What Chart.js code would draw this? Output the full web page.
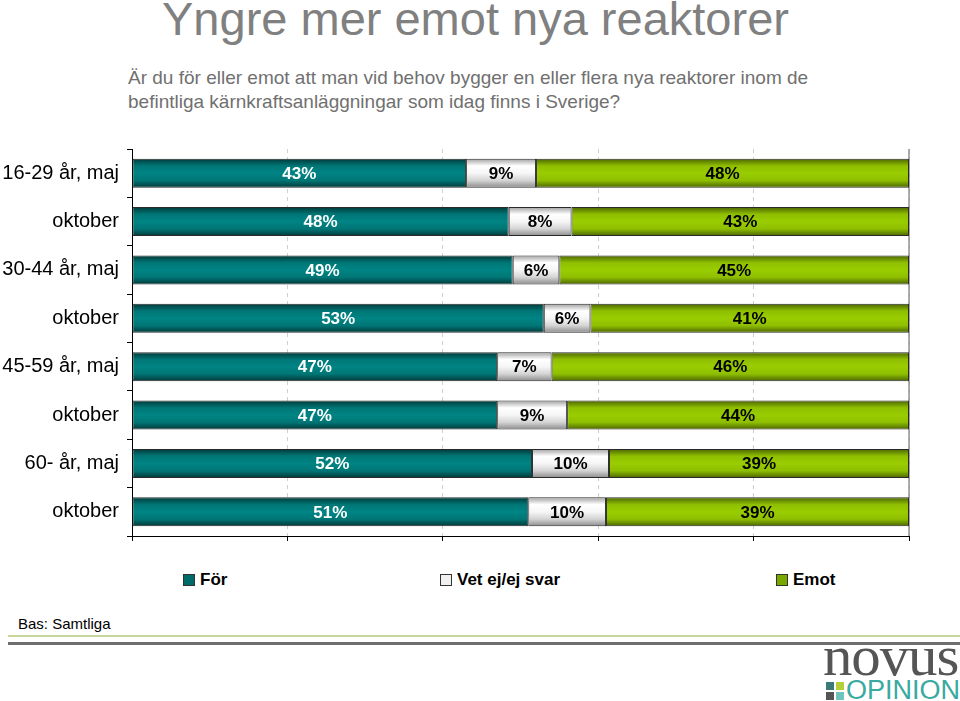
<!DOCTYPE html>
<html><head><meta charset="utf-8">
<script src="https://cdn.jsdelivr.net/npm/chart.js@4"></script>
<style>
body{margin:0;width:960px;height:701px;background:#fff;position:relative;overflow:hidden;font-family:"Liberation Sans",Arial,sans-serif;}
.abs{position:absolute;white-space:nowrap;}
#title{left:162px;top:-9px;font-size:47px;color:#808080;}
#sub{left:128px;top:66px;font-size:19px;color:#707070;line-height:24px;}
#cwrap{position:absolute;left:0;top:129px;width:960px;height:427px;}
.leg{position:absolute;top:570px;font-size:17px;color:#000;font-family:"Liberation Sans Narrow","Liberation Sans",Arial,sans-serif;font-weight:bold;}
.leg i{display:inline-block;width:10px;height:10px;border:1px solid #333;margin-right:5px;vertical-align:-1px;}
#bas{left:18px;top:615px;font-size:15px;color:#000;font-family:"Liberation Sans Narrow","Liberation Sans",Arial,sans-serif;}
#l1{left:8px;top:635px;width:952px;height:2px;background:#c8d89c;}
#l2{left:8px;top:642px;width:952px;height:3px;background:#6e6e6e;}
#novus{left:823px;top:624px;font-family:"Liberation Serif","DejaVu Serif",serif;font-size:56px;color:#555;letter-spacing:-1px;transform:scaleX(1.05);transform-origin:left;}
#opin{left:846px;top:675px;font-size:27px;color:#3aa9a0;font-family:"Liberation Sans",Arial,sans-serif;}
.sq{position:absolute;width:8px;height:8px;}
</style></head><body>
<div id="title" class="abs">Yngre mer emot nya reaktorer</div>
<div id="sub" class="abs">Är du för eller emot att man vid behov bygger en eller flera nya reaktorer inom de<br>befintliga kärnkraftsanläggningar som idag finns i Sverige?</div>
<div id="cwrap"><canvas id="c" width="960" height="427"></canvas></div>
<div class="leg" style="left:183px"><i style="background:#006b6b"></i>För</div>
<div class="leg" style="left:440px"><i style="background:#f0f0f0"></i>Vet ej/ej svar</div>
<div class="leg" style="left:776px"><i style="background:#7aa800"></i>Emot</div>
<div id="bas" class="abs">Bas: Samtliga</div>
<div id="l1" class="abs"></div><div id="l2" class="abs"></div>
<div id="novus" class="abs">novus</div>
<div class="sq" style="left:826px;top:682px;background:#3a7a78"></div>
<div class="sq" style="left:836px;top:682px;background:#b5cf3a"></div>
<div class="sq" style="left:826px;top:692px;background:#555"></div>
<div class="sq" style="left:836px;top:692px;background:#6cc4bc"></div>
<div id="opin" class="abs">OPINION</div>
<script>
const categories = ["16-29 år, maj","oktober","30-44 år, maj","oktober","45-59 år, maj","oktober","60- år, maj","oktober"];
const forValues = [43,48,49,53,47,47,52,51];
const vetValues = [9,8,6,6,7,9,10,10];
const emotValues = [48,43,45,41,46,44,39,39];
const xTicks = [0,20,40,60,80,100];
const seriesNames = ["För","Vet ej/ej svar","Emot"];

const raw = [forValues, vetValues, emotValues];
const totals = categories.map((_, i) => forValues[i] + vetValues[i] + emotValues[i]);
const norm = raw.map(arr => arr.map((v, i) => v / totals[i] * 100));

const palettes = [
  ["#003838","#007676","#008484","#007676","#003838"],
  ["#a0a0a0","#ffffff","#f6f6f6","#d4d4d4","#8a8a8a"],
  ["#4a6400","#8fbf00","#9acd00","#8fbf00","#4a6400"]
];
const textColors = ["#ffffff","#000000","#000000"];
const CAT_PCT = 0.6;

function grad(si){
  return function(ctx){
    const chart = ctx.chart;
    if(!chart.chartArea) return palettes[si][2];
    const y = chart.scales.y;
    const yc = y.getPixelForValue(ctx.dataIndex);
    const band = (y.bottom - y.top) / categories.length;
    const h = band * CAT_PCT;
    const g = chart.ctx.createLinearGradient(0, yc - h/2, 0, yc + h/2);
    const p = palettes[si];
    g.addColorStop(0, p[0]); g.addColorStop(0.25, p[1]); g.addColorStop(0.5, p[2]);
    g.addColorStop(0.75, p[3]); g.addColorStop(1, p[4]);
    return g;
  };
}

const labelPlugin = {
  id:'labels',
  afterDatasetsDraw(chart){
    const c = chart.ctx;
    c.save();
    c.font = 'bold 17px "Liberation Sans", Arial, sans-serif';
    c.textAlign = 'center'; c.textBaseline = 'middle';
    chart.data.datasets.forEach((ds, si) => {
      chart.getDatasetMeta(si).data.forEach((bar, i) => {
        const x = (bar.x + bar.base) / 2;
        c.fillStyle = textColors[si];
        c.fillText(raw[si][i] + '%', x, bar.y + 1);
      });
    });
    c.restore();
  }
};
const frame = {
  id:'frame',
  beforeDatasetsDraw(chart){
    const {ctx, chartArea:a} = chart;
    ctx.save(); ctx.strokeStyle = '#909090'; ctx.lineWidth = 1.5;
    ctx.beginPath(); ctx.moveTo(a.right, a.top); ctx.lineTo(a.right, a.bottom); ctx.stroke();
    ctx.restore();
  }
};

new Chart(document.getElementById('c'), {
  type:'bar',
  data:{
    labels: categories,
    datasets: norm.map((arr, si) => ({
      label: seriesNames[si], data: arr,
      backgroundColor: grad(si),
      borderColor: '#2a2a2a', borderWidth: 1, borderSkipped: false,
      categoryPercentage: CAT_PCT, barPercentage: 1
    }))
  },
  options:{
    indexAxis:'y', responsive:false, animation:false,
    layout:{padding:{left:0,right:51,top:0,bottom:0}},
    plugins:{legend:{display:false}, tooltip:{enabled:false}},
    scales:{
      x:{
        stacked:true, min:0, max:100,
        afterBuildTicks(s){ s.ticks = xTicks.map(v => ({value:v})); },
        afterFit(s){ s.height = 12; },
        ticks:{display:false},
        grid:{color:'#d0d0d0', tickColor:'#000', tickLength:5, drawTicks:true},
        border:{color:'#000', width:1, dash:[4,4]}
      },
      y:{
        stacked:true,
        afterFit(s){ s.width = 132; },
        ticks:{color:'#000', font:{family:'"Liberation Sans", Arial, sans-serif', size:20}, padding:8},
        grid:{drawOnChartArea:false, offset:true, tickColor:'#000', tickLength:5},
        border:{color:'#000', width:1}
      }
    }
  },
  plugins:[frame, labelPlugin]
});
</script>
</body></html>
